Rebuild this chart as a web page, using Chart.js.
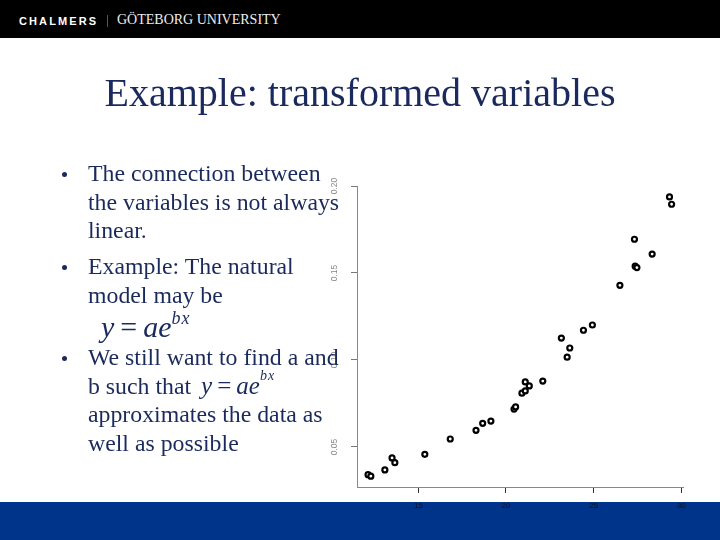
<!DOCTYPE html>
<html>
<head>
<meta charset="utf-8">
<script src="https://cdn.jsdelivr.net/npm/chart.js@4/dist/chart.umd.min.js"></script>
<style>
  html, body { margin:0; padding:0; }
  body { width:720px; height:540px; position:relative; overflow:hidden; background:#fff;
         font-family:"Liberation Serif", "Times New Roman", serif; color:#1b2a5c; }
  #head { position:absolute; left:0; top:0; width:720px; height:38px; background:#000; }
  #head .ch { position:absolute; left:19px; top:15px; font:bold 11px "Liberation Sans", Arial, sans-serif;
              letter-spacing:2.1px; color:#fff; }
  #head .sep { position:absolute; left:107px; top:15px; width:1px; height:12px; background:#555; }
  #head .gu { position:absolute; left:117px; top:12px; font:14px "Liberation Serif", serif; color:#eee; }
  #band { position:absolute; left:0; top:502px; width:720px; height:38px; background:#00348a; }
  #chart { position:absolute; left:0; top:0; }
  h1 { position:absolute; left:0; width:720px; top:71px; margin:0; text-align:center;
       font-weight:normal; font-size:40px; line-height:44px; white-space:nowrap; }
  .bul { position:absolute; left:88px; font-size:23.8px; line-height:28.5px; white-space:nowrap; z-index:2; }
  .bul:before { content:""; position:absolute; left:-26px; top:13px; width:5px; height:5px;
                border-radius:50%; background:#1b2a5c; }
  .eq { font-style:italic; }
  .eq .sp { margin:0 0.2em; font-style:normal; }
  .eq sup { position:relative; vertical-align:baseline; line-height:0; }
  #eq1 { position:absolute; left:101px; top:307px; font-size:30px; line-height:40px; z-index:2; }
  #eq1 sup { font-size:18px; top:-13px; letter-spacing:1px; }
  .eq2 { font-size:25px; line-height:0; margin-left:10px; }
  .eq2 sup { font-size:14px; top:-14px; letter-spacing:1px; }
</style>
</head>
<body>
<div id="head">
  <span class="ch">CHALMERS</span><span class="sep"></span><span class="gu">GÖTEBORG UNIVERSITY</span>
</div>
<div id="band"></div>
<canvas id="chart" width="720" height="540"></canvas>
<h1>Example: transformed variables</h1>
<div class="bul" style="top:159px">The connection between<br>the variables is not always<br>linear.</div>
<div class="bul" style="top:252px">Example: The natural<br>model may be</div>
<div id="eq1" class="eq">y<span class="sp">=</span>ae<sup>bx</sup></div>
<div class="bul" style="top:343px">We still want to find a and<br>b such that<span class="eq eq2">y<span class="sp">=</span>ae<sup>bx</sup></span><br>approximates the data as<br>well as possible</div>

<script>
// scatter values
const xVals = [12.13, 12.29, 13.09, 13.50, 13.66, 15.37, 16.82, 18.29, 18.67, 19.14,
               20.46, 20.55, 20.91, 21.10, 21.10, 21.33, 22.10, 23.16, 23.49, 23.64,
               24.42, 24.93, 26.50, 27.37, 27.47, 27.33, 28.34, 29.33, 29.45];
const yVals = [0.0341, 0.0332, 0.0368, 0.0437, 0.0410, 0.0458, 0.0546, 0.0596, 0.0636, 0.0649,
               0.0718, 0.0730, 0.0809, 0.0822, 0.0874, 0.0851, 0.0879, 0.1126, 0.1016, 0.1069,
               0.1171, 0.1201, 0.1429, 0.1539, 0.1531, 0.1694, 0.1609, 0.1937, 0.1895];
const xTicks = [15, 20, 25, 30];
const yTicks = [0.05, 0.10, 0.15, 0.20];

const points = xVals.map((x, i) => ({x, y: yVals[i]}));

new Chart(document.getElementById("chart"), {
  type: 'scatter',
  data: { datasets: [{ data: points, pointRadius: 2.5, borderWidth: 2.2,
                       borderColor: '#000', backgroundColor: '#fff', pointHoverRadius: 2.5 }] },
  options: {
    responsive: false, animation: false,
    layout: { padding: { left: 327, right: 37, top: 186, bottom: 28 } },
    plugins: { legend: { display: false }, tooltip: { enabled: false } },
    scales: {
      x: {
        type: 'linear', min: 11.5, max: 30.1,
        afterBuildTicks: s => { s.ticks = xTicks.map(v => ({value: v})); },
        afterFit: s => { s.height = 25; },
        grid: { drawOnChartArea: false, tickLength: 6, color: '#333' },
        border: { color: '#888', width: 1 },
        ticks: { padding: 8, color: '#111', font: { family: '"Liberation Sans", Arial, sans-serif', size: 8 },
                 maxRotation: 0, callback: v => String(v) }
      },
      y: {
        type: 'linear', min: 0.027, max: 0.2,
        afterBuildTicks: s => { s.ticks = yTicks.map(v => ({value: v})); },
        afterFit: s => { s.width = 30; },
        grid: { drawOnChartArea: false, tickLength: 6, color: '#777' },
        border: { color: '#888', width: 1 },
        ticks: { padding: 8, color: '#888', crossAlign: 'center', minRotation: 90, maxRotation: 90,
                 font: { family: '"Liberation Sans", Arial, sans-serif', size: 8.5 },
                 callback: v => v.toFixed(2) }
      }
    }
  }
});
</script>
</body>
</html>
